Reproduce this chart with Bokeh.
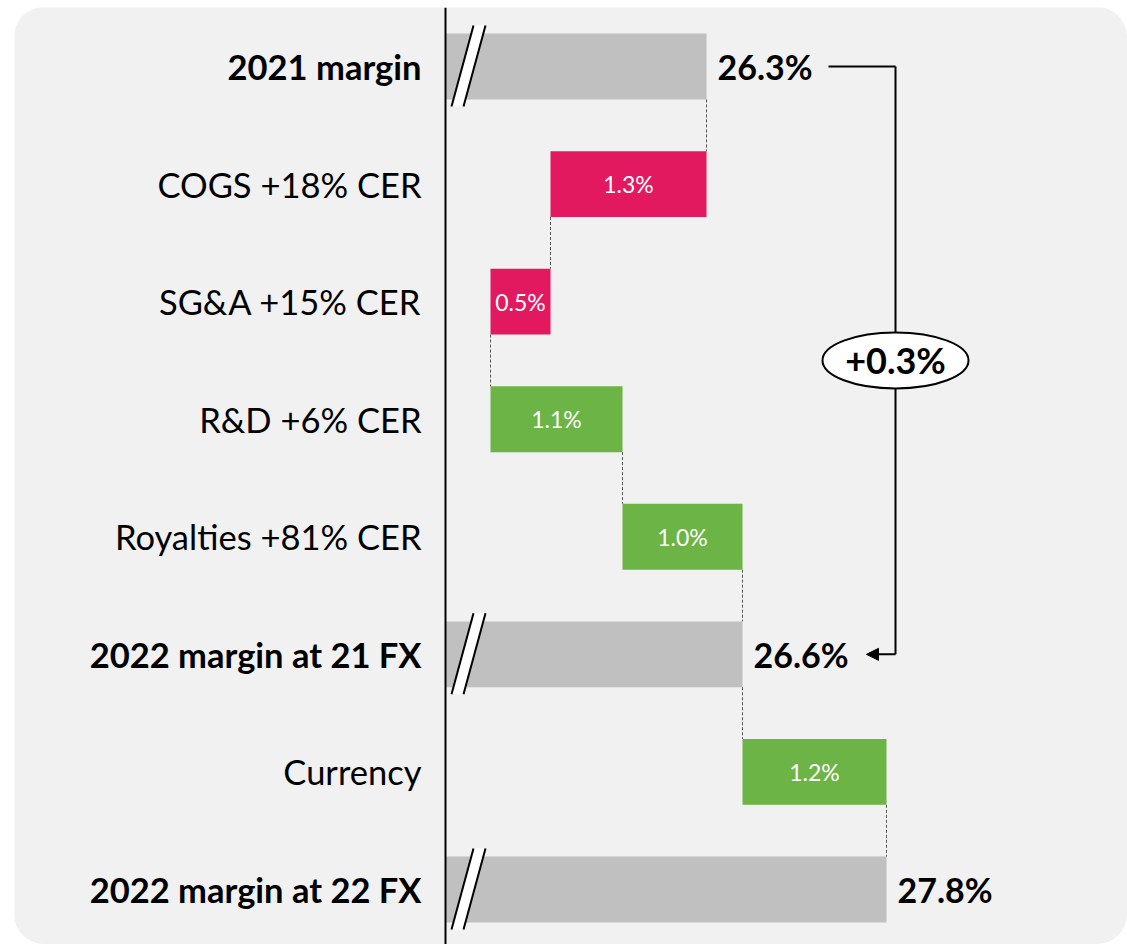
from bokeh.plotting import figure
from bokeh.models import Range1d, ColumnDataSource, Arrow, NormalHead, Span
from bokeh.core.properties import value, field
from bokeh.embed import file_html
from bokeh.resources import INLINE

# ---------------- data ----------------
categories = ["2021 margin", "COGS +18% CER", "SG&A +15% CER", "R&D +6% CER",
              "Royalties +81% CER", "2022 margin at 21 FX", "Currency", "2022 margin at 22 FX"]
changes = [26.3, -1.3, -0.5, 1.1, 1.0, 26.6, 1.2, 27.8]
is_total = [True, False, False, False, False, True, False, True]
bracket_label = "+0.3%"
bracket_from, bracket_to = 0, 5

# ---------------- style ----------------
FONT = "Lato"
GRAY, RED, GREEN, BG = "#c0c0c0", "#e3195f", "#6cb445", "#f1f1f1"
W, H = 1113, 937
AXIS_PX = 431          # canvas x of the vertical axis line
PX = 120.0             # pixels per percentage point
X0 = 24.125            # value at the axis line
XS = X0 - AXIS_PX / PX
XE = X0 + (W - AXIS_PX) / PX
ROW = 117.57
TOP = 59
BAR_H = 0.56

# ---------------- waterfall ----------------
lefts, rights, ends, colors = [], [], [], []
run = 0.0
for c, t in zip(changes, is_total):
    if t:
        lefts.append(X0); rights.append(c); run = c; colors.append(GRAY)
    else:
        new = run + c
        lefts.append(min(run, new)); rights.append(max(run, new)); run = new
        colors.append(GREEN if c > 0 else RED)
    ends.append(run)
ys = list(range(len(categories)))

p = figure(width=W, height=H, output_backend="svg", toolbar_location=None,
           x_range=Range1d(XS, XE),
           y_range=Range1d((H - TOP) / ROW, -TOP / ROW),
           min_border=0)
p.background_fill_color = BG
p.border_fill_color = BG
p.outline_line_color = None
p.grid.visible = False
p.axis.visible = False
p.styles = {"border-radius": "30px", "overflow": "hidden",
            "margin-left": "14px", "margin-top": "7px"}

src = ColumnDataSource(dict(y=ys, left=lefts, right=rights, color=colors))
p.hbar(y="y", left="left", right="right", height=BAR_H, fill_color="color", line_color=None, source=src)

# axis line
p.add_layout(Span(location=X0, dimension="height", line_color="black", line_width=2))

# connectors
cx, cy0, cy1 = [], [], []
for i in range(len(categories) - 1):
    cx.append(ends[i]); cy0.append(i + BAR_H / 2); cy1.append(i + 1 - BAR_H / 2)
p.segment(x0=cx, y0=cy0, x1=cx, y1=cy1, line_color="#555555", line_width=1, line_dash="3 2")

# break marks on total bars
bx, by, l1x0, l1y0, l1x1, l1y1, l2x0, l2x1 = [], [], [], [], [], [], [], []
for i, t in enumerate(is_total):
    if not t:
        continue
    yb, yt = i + 40 / ROW, i - 41 / ROW
    a, b, c2, d = X0 + 6 / PX, X0 + 28 / PX, X0 + 40 / PX, X0 + 18 / PX
    bx.append([a, b, c2, d]); by.append([yb, yt, yt, yb])
    l1x0.append(a); l1y0.append(yb); l1x1.append(b); l1y1.append(yt)
    l2x0.append(d); l2x1.append(c2)
p.patches(xs=bx, ys=by, fill_color="white", line_color=None)
p.segment(x0=l1x0, y0=l1y0, x1=l1x1, y1=l1y1, line_color="black", line_width=2)
p.segment(x0=l2x0, y0=l1y0, x1=l2x1, y1=l1y1, line_color="black", line_width=2)

# in-bar labels
ix = [(l + r) / 2 for l, r, t in zip(lefts, rights, is_total) if not t]
iy = [i for i, t in enumerate(is_total) if not t]
itxt = [f"{abs(c):.1f}%" for c, t in zip(changes, is_total) if not t]
p.text(x=ix, y=iy, text=itxt, text_align="center", text_baseline="middle",
       text_color="white", text_font=value(FONT), text_font_size="23px")

# total labels
tx = [r for r, t in zip(rights, is_total) if t]
ty = [i for i, t in enumerate(is_total) if t]
ttxt = [f"{c:.1f}%" for c, t in zip(changes, is_total) if t]
p.text(x=tx, y=ty, text=ttxt, x_offset=11, text_align="left", text_baseline="middle",
       text_color="black", text_font=value(FONT), text_font_size="34px", text_font_style="bold")

# category labels
lsrc = ColumnDataSource(dict(x=[X0] * len(categories), y=ys, text=categories,
                             style=["bold" if t else "normal" for t in is_total]))
p.text(x="x", y="y", text="text", source=lsrc, x_offset=-24,
       text_align="right", text_baseline="middle", text_color="black",
       text_font=value(FONT), text_font_size="34.5px", text_font_style=field("style"))

# bracket
BX = 27.875
p.segment(x0=[ends[bracket_from] + 122 / PX, BX], y0=[bracket_from, bracket_from],
          x1=[BX, BX], y1=[bracket_from, bracket_to], line_color="black", line_width=2)
p.add_layout(Arrow(x_start=BX, y_start=bracket_to, x_end=ends[bracket_to] + 124 / PX, y_end=bracket_to,
                   line_color="black", line_width=2,
                   end=NormalHead(size=12, fill_color="black", line_color="black")))
ym = (bracket_from + bracket_to) / 2
p.ellipse(x=[BX], y=[ym], width=146, height=56, width_units="screen", height_units="screen",
          fill_color="white", line_color="black", line_width=2)
p.text(x=[BX], y=[ym], text=[bracket_label], text_align="center", text_baseline="middle",
       text_color="black", text_font=value(FONT), text_font_size="36px", text_font_style="bold")

open("out.html", "w").write(file_html(p, INLINE))
